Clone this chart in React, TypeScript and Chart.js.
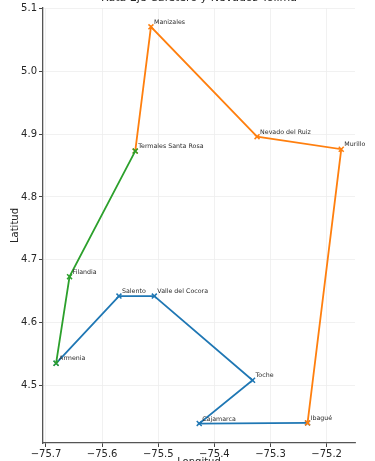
import React, { useEffect, useRef } from "react";
import { Chart, registerables } from "chart.js";

Chart.register(...registerables);

// Route 1 (blue): Armenia -> Ibagué
const blueNames = ["Armenia", "Salento", "Valle del Cocora", "Toche", "Cajamarca", "Ibagué"];
const blueLon = [-75.682, -75.57, -75.507, -75.332, -75.427, -75.234];
const blueLat = [4.535, 4.642, 4.642, 4.508, 4.439, 4.44];

// Route 2 (orange): Ibagué -> Termales Santa Rosa
const orangeNames = ["Ibagué", "Murillo", "Nevado del Ruiz", "Manizales", "Termales Santa Rosa"];
const orangeLon = [-75.234, -75.174, -75.324, -75.513, -75.541];
const orangeLat = [4.44, 4.876, 4.896, 5.071, 4.873];

// Route 3 (green): Termales Santa Rosa -> Armenia
const greenNames = ["Termales Santa Rosa", "Filandia", "Armenia"];
const greenLon = [-75.541, -75.658, -75.682];
const greenLat = [4.873, 4.673, 4.535];

const xTicks = [-75.7, -75.6, -75.5, -75.4, -75.3, -75.2];
const yTicks = [4.5, 4.6, 4.7, 4.8, 4.9, 5.0, 5.1];

const titleText = "Ruta Eje Cafetero y Nevados Tolima";
const xTitle = "Longitud";
const yTitle = "Latitud";

const FONT = "'DejaVu Sans', sans-serif";

const toPts = (lon: number[], lat: number[]) => lon.map((x, i) => ({ x, y: lat[i] }));
const fmt = (v: number) => (v < 0 ? "\u2212" : "") + Math.abs(v).toFixed(1);

export default function App() {
  const ref = useRef<HTMLCanvasElement | null>(null);

  useEffect(() => {
    if (!ref.current) return;

    const labelsPlugin = {
      id: "pointLabels",
      afterDatasetsDraw(chart: any) {
        const ctx = chart.ctx;
        const xs = chart.scales.x;
        const ys = chart.scales.y;
        const seen = new Set<string>();
        const groups: [string[], number[], number[]][] = [
          [blueNames, blueLon, blueLat],
          [orangeNames, orangeLon, orangeLat],
          [greenNames, greenLon, greenLat],
        ];
        ctx.save();
        ctx.font = `6.3px ${FONT}`;
        ctx.fillStyle = "#2b2b2b";
        ctx.textAlign = "left";
        ctx.textBaseline = "alphabetic";
        for (const [names, lon, lat] of groups) {
          names.forEach((n, i) => {
            if (seen.has(n)) return;
            seen.add(n);
            const px = xs.getPixelForValue(lon[i]);
            const py = ys.getPixelForValue(lat[i]);
            ctx.fillText(n, px + 3, py - 3);
          });
        }
        ctx.restore();
      },
      afterDraw(chart: any) {
        const ctx = chart.ctx;
        const area = chart.chartArea;
        const cx = (area.left + area.right) / 2;
        ctx.save();
        ctx.fillStyle = "#262626";
        // title (mostly above the visible page)
        ctx.font = `11px ${FONT}`;
        ctx.textAlign = "center";
        ctx.textBaseline = "alphabetic";
        ctx.fillText(titleText, cx, 1);
        // x axis title
        ctx.font = `10px ${FONT}`;
        ctx.textBaseline = "top";
        ctx.fillText(xTitle, cx, 457.5);
        // y axis title
        ctx.translate(15, (area.top + area.bottom) / 2);
        ctx.rotate(-Math.PI / 2);
        ctx.textBaseline = "middle";
        ctx.fillText(yTitle, 0, 0);
        ctx.restore();
      },
    };

    const ds = (data: any, color: string, order: number) => ({
      data,
      showLine: true,
      borderColor: color,
      backgroundColor: color,
      borderWidth: 1.8,
      pointStyle: "crossRot" as const,
      pointRadius: 3.5,
      pointBorderWidth: 1.5,
      pointBorderColor: color,
      pointHoverRadius: 3.5,
      order,
    });

    const chart = new Chart(ref.current, {
      type: "scatter",
      data: {
        datasets: [
          ds(toPts(blueLon, blueLat), "#1f77b4", 3),
          ds(toPts(orangeLon, orangeLat), "#ff7f0e", 2),
          ds(toPts(greenLon, greenLat), "#2ca02c", 1),
        ],
      },
      options: {
        animation: false,
        responsive: true,
        maintainAspectRatio: false,
        layout: { padding: { top: 6, right: 20, bottom: 0, left: 0 } },
        plugins: {
          legend: { display: false },
          tooltip: { enabled: false },
          title: { display: false },
        },
        scales: {
          x: {
            type: "linear",
            min: -75.7053,
            max: -75.1495,
            afterBuildTicks: (s: any) => {
              s.ticks = xTicks.map((v) => ({ value: v }));
            },
            afterFit: (s: any) => {
              s.height = 37;
            },
            ticks: {
              callback: (v: any) => fmt(Number(v)),
              font: { family: FONT, size: 10 },
              color: "#262626",
              padding: 1,
              maxRotation: 0,
              autoSkip: false,
            },
            grid: {
              color: "#ededed",
              lineWidth: 0.8,
              tickColor: "#444444",
              tickLength: 4,
              tickWidth: 1,
            },
            border: { display: true, color: "#555555", width: 1.3 },
          },
          y: {
            type: "linear",
            min: 4.408,
            max: 5.101,
            afterBuildTicks: (s: any) => {
              s.ticks = yTicks.map((v) => ({ value: v }));
            },
            afterFit: (s: any) => {
              s.width = 43;
            },
            ticks: {
              callback: (v: any) => fmt(Number(v)),
              font: { family: FONT, size: 10 },
              color: "#262626",
              padding: 2,
              autoSkip: false,
            },
            grid: {
              color: "#ededed",
              lineWidth: 0.8,
              tickColor: "#444444",
              tickLength: 4,
              tickWidth: 1,
            },
            border: { display: true, color: "#555555", width: 1.3 },
          },
        },
      },
      plugins: [labelsPlugin],
    });

    return () => chart.destroy();
  }, []);

  return (
    <div style={{ position: "fixed", top: 0, left: 0, width: 375, height: 480, background: "#fff" }}>
      <canvas ref={ref} />
    </div>
  );
}
